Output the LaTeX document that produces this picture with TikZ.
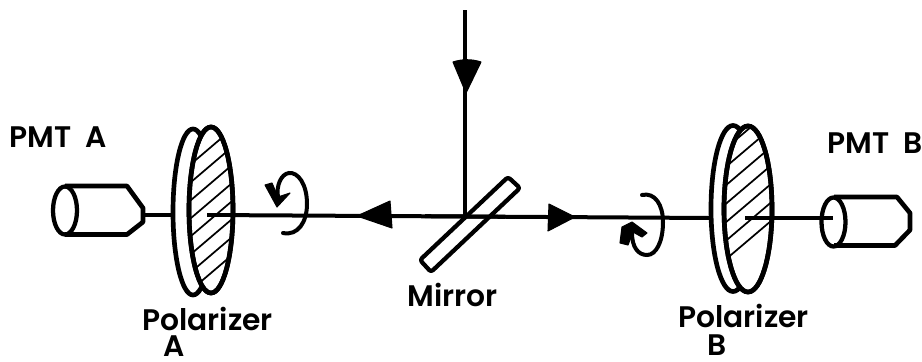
\documentclass[tikz,border=0pt]{standalone}
\usepackage{fontspec}
\setmainfont{Poppins SemiBold}
\usetikzlibrary{arrows.meta}
\tikzset{
  lbl/.style={anchor=base west,inner sep=0pt,font=\fontsize{22.3pt}{24pt}\selectfont},
  beam/.style={line width=3pt},
  disc/.style={line width=3.5pt,fill=white},
  hatch/.style={line width=1.3pt},
  tipm/.style={fill=black,draw=black,line width=0.8pt,line join=round},
  spin/.style={line width=3pt,line cap=round}
}
\begin{document}
\begin{tikzpicture}[x=0.75pt,y=-0.75pt]
\useasboundingbox (0,0) rectangle (922,361);
% named points
\coordinate (source) at (465,10);
\coordinate (mc) at (465,216.5);
\coordinate (aEnd) at (207,215);
\coordinate (bEnd) at (745,218);
\coordinate (aOut) at (143,215);
\coordinate (bIn) at (833,218);
\coordinate (aBack) at (173,215);
\coordinate (bBack) at (711,218);

% beams
\draw[beam] (source) -- (mc);
\draw[beam] (aEnd) -- (mc);
\draw[beam] (mc) -- (bBack);
\draw[beam] (aOut) -- (aBack);

% mirror
\draw[line width=3.2pt,line join=round,rounded corners=2pt] (508,177) -- (520,188) -- (431,272) -- (420,260) -- cycle;
\draw[beam] (425,216.2) -- (505,216.8);

% arrowheads
\fill[tipm] (453,62) .. controls (462,59) and (472,59) .. (481,62) -- (466,93) -- cycle;
\fill[tipm] (390,201) -- (392,228) -- (357,216) -- cycle;
\fill[tipm] (549,204) -- (548,231) -- (575,217) -- cycle;

% polarizer A
\draw[disc] (193,212) ellipse [x radius=20,y radius=83];
\draw[disc] (211,210) ellipse [x radius=22,y radius=83];
\begin{scope}
\clip (211,210) ellipse [x radius=22,y radius=83];
\foreach \k in {-2,...,5}
  \draw[hatch] (170,{183+18*\k+34.9}) -- (252,{183+18*\k-34.9});
\end{scope}
\draw[line width=3.5pt] (211,210) ellipse [x radius=22,y radius=83];

% polarizer B
\draw[disc] (733,208.5) ellipse [x radius=22,y radius=83];
\draw[disc] (748,209) ellipse [x radius=24,y radius=83];
\begin{scope}
\clip (748,209) ellipse [x radius=24,y radius=83];
\foreach \k in {-2,...,5}
  \draw[hatch] (705,{148+18.5*\k+36.5}) -- (791,{148+18.5*\k-36.5});
\end{scope}
\draw[line width=3.5pt] (748,209) ellipse [x radius=24,y radius=83];

% beams on top of the discs
\draw[beam] (aEnd) -- (232,215);
\draw[beam] (bEnd) -- (bIn);

% PMT A
\draw[line width=3.5pt,line join=round,fill=white] (65,186) -- (127,186) -- (143,208) -- (143,222) -- (127,234.5) -- (65,234.5);
\draw[line width=3.2pt] (65,210.5) ellipse [x radius=12,y radius=24];

% PMT B
\draw[line width=3.5pt,line join=round,fill=white] (834,197) -- (897,197) -- (910,213) -- (910,230) -- (895,245.5) -- (834,245.5);
\draw[line width=3.2pt] (833.5,222) ellipse [x radius=12,y radius=24.5];
\draw[beam] (822,218) -- (bIn);

% rotation marks
\draw[spin] (283,233) .. controls (298,236) and (307,222) .. (307,204) .. controls (307,184) and (298,172) .. (289,173) .. controls (281,174) and (276,186) .. (278,197);
\fill[tipm] (265,185) -- (272,183) -- (278,197) -- (290,193) -- (277,207) -- cycle;
\draw[spin] (642,195) .. controls (655,192) and (663,205) .. (663,222) .. controls (663,242) and (656,255) .. (647,255) .. controls (638,255) and (632,247) .. (632,233);
\fill[tipm] (620,243) -- (622,227) -- (632,222) -- (647,233) -- (642,237) -- (633,232) -- (628,245) -- cycle;

% labels
\node[lbl] (pmta) at (9,147) {PMT\ \ A};
\node[lbl] (pmtb) at (827,153) {PMT\ \ B};
\node[lbl] (pa) at (142,330) {Polarizer};
\node[lbl] (pal) at (163,356.5) {A};
\node[lbl] (pb) at (678,327) {Polarizer};
\node[lbl] (pbl) at (707,355) {B};
\node[lbl] (mlabel) at (407,306) {Mirror};
\end{tikzpicture}
\end{document}
